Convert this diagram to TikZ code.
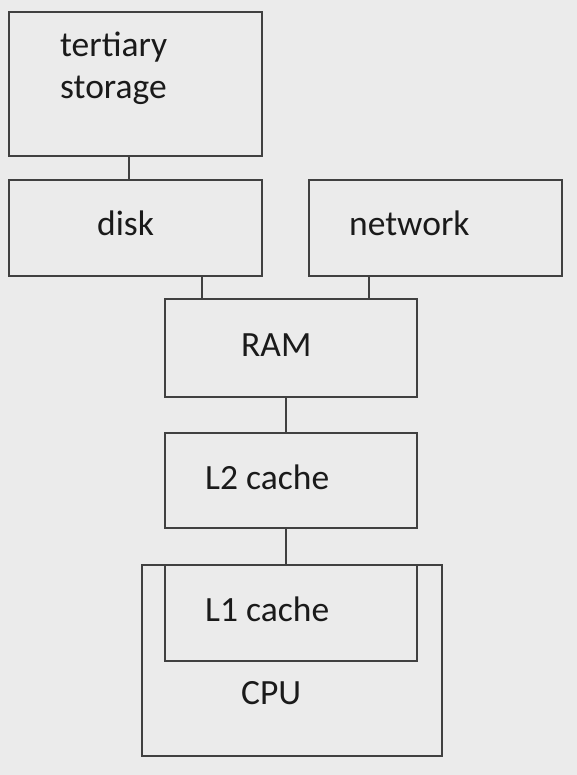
\documentclass[tikz,border=0pt]{standalone}
\usepackage{fontspec}
\setmainfont{Carlito}
\definecolor{bg}{HTML}{EBEBEB}
\definecolor{ln}{HTML}{404040}
\definecolor{tx}{HTML}{1A1A1A}
\begin{document}
\begin{tikzpicture}[x=1pt,y=-1pt,
  box/.style={draw=ln,line width=2pt,fill=bg},
  lbl/.style={anchor=base west,inner sep=0pt,text=tx,font=\fontsize{35.5}{42}\selectfont},
  conn/.style={draw=ln,line width=2pt}]
\fill[bg] (0,0) rectangle (577,775);
\useasboundingbox (0,0) rectangle (577,775);
% boxes
\node[box,minimum width=253pt,minimum height=144pt,inner sep=0pt] (tert) at (135.5,84) {};
\node[box,minimum width=253pt,minimum height=96pt,inner sep=0pt] (disk) at (135.5,228) {};
\node[box,minimum width=253pt,minimum height=96pt,inner sep=0pt] (net) at (435.5,228) {};
\node[box,minimum width=252pt,minimum height=98pt,inner sep=0pt] (ram) at (291,348) {};
\node[box,minimum width=252pt,minimum height=95pt,inner sep=0pt] (l2) at (291,480.5) {};
\node[box,minimum width=300pt,minimum height=191pt,inner sep=0pt] (cpu) at (292,660.5) {};
\node[box,minimum width=252pt,minimum height=96pt,inner sep=0pt] (l1) at (291,613) {};
% labels
\node[lbl] (tertl) at (60,56.5) {tertiary};
\node[lbl] (tertl2) at (60,98.5) {storage};
\node[lbl] (diskl) at (97,235.5) {disk};
\node[lbl] (netl) at (349,235.5) {network};
\node[lbl] (raml) at (241,356.5) {RAM};
\node[lbl] (l2l) at (205,489.5) {L2 cache};
\node[lbl] (l1l) at (205,621.5) {L1 cache};
\node[lbl] (cpul) at (241,704.5) {CPU};
% connectors
\draw[conn] (tert.south -| 129,0) -- (disk.north -| 129,0);
\draw[conn] (disk.south -| 202,0) -- (ram.north -| 202,0);
\draw[conn] (net.south -| 369,0) -- (ram.north -| 369,0);
\draw[conn] (ram.south -| 286,0) -- (l2.north -| 286,0);
\draw[conn] (l2.south -| 286,0) -- (l1.north -| 286,0);
\end{tikzpicture}
\end{document}
